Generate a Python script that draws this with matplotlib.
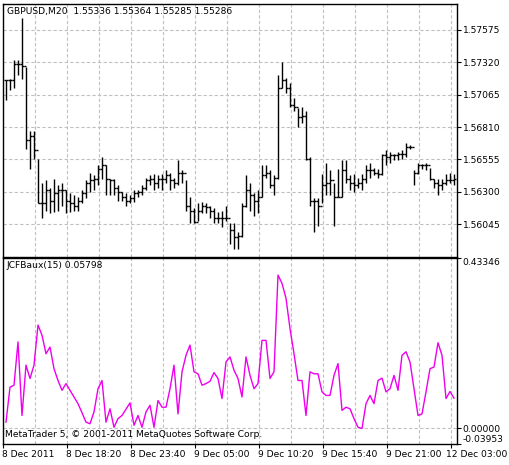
import matplotlib
matplotlib.use("Agg")
import matplotlib.pyplot as plt
import numpy as np

high = [1.5718,1.5719,1.5734,1.5734,1.5767,1.5728,1.5678,1.5678,1.5656,1.5637,1.5639,1.5633,1.5640,1.5635,1.5637,
        1.5631,1.5629,1.5627,1.5626,1.5631,1.5639,1.5645,1.5643,1.5651,1.5657,1.5651,1.5640,1.5640,1.5635,1.5630,
        1.5629,1.5627,1.5631,1.5631,1.5635,1.5641,1.5643,1.5644,1.5643,1.5644,1.5647,1.5645,1.5641,1.5655,1.5647,
        1.5639,1.5626,1.5617,1.5621,1.5622,1.5621,1.5619,1.5617,1.5614,1.5615,1.5619,1.5605,1.5605,1.5598,1.5621,
        1.5643,1.5637,1.5629,1.5631,1.5651,1.5651,1.5647,1.5643,1.5722,1.5732,1.5720,1.5716,1.5704,1.5696,1.5697,
        1.5694,1.5657,1.5625,1.5625,1.5644,1.5653,1.5647,1.5637,1.5648,1.5655,1.5655,1.5643,1.5644,1.5641,1.5644,
        1.5651,1.5653,1.5649,1.5648,1.5660,1.5663,1.5661,1.5660,1.5661,1.5663,1.5668,1.5667,1.5647,1.5653,1.5652,
        1.5653,1.5649,1.5640,1.5640,1.5640,1.5644,1.5645,1.5644]
low = [1.5702,1.5710,1.5712,1.5722,1.5719,1.5664,1.5648,1.5656,1.5621,1.5609,1.5615,1.5613,1.5614,1.5615,1.5619,
       1.5613,1.5614,1.5615,1.5615,1.5621,1.5625,1.5630,1.5631,1.5635,1.5640,1.5627,1.5627,1.5627,1.5623,1.5623,
       1.5619,1.5621,1.5622,1.5626,1.5627,1.5631,1.5635,1.5631,1.5633,1.5631,1.5637,1.5631,1.5633,1.5635,1.5637,
       1.5615,1.5605,1.5605,1.5607,1.5613,1.5613,1.5609,1.5605,1.5605,1.5602,1.5607,1.5589,1.5585,1.5585,1.5594,
       1.5618,1.5615,1.5611,1.5613,1.5626,1.5641,1.5633,1.5627,1.5640,1.5712,1.5708,1.5697,1.5694,1.5681,1.5684,
       1.5655,1.5619,1.5598,1.5603,1.5621,1.5627,1.5627,1.5603,1.5626,1.5626,1.5637,1.5631,1.5630,1.5633,1.5631,
       1.5637,1.5641,1.5643,1.5641,1.5643,1.5651,1.5653,1.5655,1.5655,1.5656,1.5657,1.5664,1.5635,1.5644,1.5648,
       1.5647,1.5639,1.5633,1.5627,1.5631,1.5635,1.5637,1.5635]
close = [1.5718,1.5718,1.5731,1.5731,1.5729,1.5671,1.5674,1.5663,1.5621,1.5621,1.5631,1.5623,1.5629,1.5631,1.5631,
         1.5623,1.5621,1.5619,1.5623,1.5629,1.5637,1.5639,1.5640,1.5648,1.5651,1.5640,1.5639,1.5633,1.5630,1.5626,
         1.5623,1.5625,1.5629,1.5630,1.5633,1.5639,1.5640,1.5637,1.5640,1.5640,1.5643,1.5639,1.5637,1.5645,1.5645,
         1.5619,1.5615,1.5606,1.5615,1.5619,1.5618,1.5615,1.5609,1.5609,1.5609,1.5609,1.5600,1.5594,1.5595,1.5619,
         1.5631,1.5627,1.5623,1.5626,1.5643,1.5645,1.5635,1.5641,1.5712,1.5718,1.5712,1.5698,1.5697,1.5689,1.5690,
         1.5656,1.5623,1.5623,1.5619,1.5635,1.5637,1.5639,1.5626,1.5626,1.5647,1.5640,1.5637,1.5635,1.5637,1.5640,
         1.5647,1.5647,1.5645,1.5644,1.5659,1.5657,1.5659,1.5659,1.5660,1.5660,1.5665,1.5665,1.5645,1.5651,1.5651,
         1.5651,1.5640,1.5637,1.5635,1.5637,1.5639,1.5639,1.5640]

jcf = [0.016,0.105,0.110,0.220,0.033,0.161,0.127,0.161,0.263,0.237,0.190,0.207,0.152,0.122,0.097,0.114,0.097,0.080,
       0.063,0.040,0.016,0.012,0.042,0.101,0.122,0.016,0.050,0.003,0.025,0.033,0.049,0.065,0.008,0.033,0.003,0.042,
       0.059,0.003,0.071,0.054,0.054,0.101,0.161,0.037,0.144,0.186,0.212,0.144,0.139,0.110,0.114,0.120,0.142,0.127,
       0.076,0.169,0.182,0.148,0.127,0.080,0.182,0.135,0.101,0.114,0.224,0.224,0.127,0.144,0.390,0.369,0.331,0.254,
       0.190,0.122,0.122,0.033,0.144,0.139,0.139,0.093,0.084,0.084,0.135,0.165,0.046,0.054,0.050,0.025,0.003,0.000,
       0.063,0.084,0.063,0.122,0.128,0.093,0.101,0.135,0.097,0.186,0.195,0.169,0.101,0.033,0.037,0.093,0.152,0.156,
       0.218,0.186,0.076,0.094,0.077]

price_ticks = [1.57575, 1.57320, 1.57065, 1.56810, 1.56555, 1.56300, 1.56045]
ind_ticks = [0.43346, 0.0, -0.03953]
time_labels = ["8 Dec 2011", "8 Dec 18:20", "8 Dec 23:40", "9 Dec 05:00",
               "9 Dec 10:20", "9 Dec 15:40", "9 Dec 21:00", "12 Dec 03:00"]

W, H = 509, 465
fig = plt.figure(figsize=(W/100, H/100), dpi=100)
plt.rcParams['font.family'] = ['DejaVu Sans']
fs = 6.6

def axrect(l, t, r, b):
    return [l/W, 1 - b/H, (r-l)/W, (b-t)/H]

ax1 = fig.add_axes(axrect(3, 4, 457, 257))
ax2 = fig.add_axes(axrect(3, 258, 457, 444))

n = len(close)
x = np.arange(n)
opens = [close[0]] + close[:-1]
ax1.vlines(x, low, high, color='black', lw=1.0)
ax1.hlines(opens, x - 0.4, x, color='black', lw=1)
ax1.hlines(close, x, x + 0.4, color='black', lw=1)
ax2.plot(x, jcf, color='#ee00ee', lw=1)

xl = (-0.75, 112.75)
grid_x = np.arange(7.25, 113, 8)
for ax in (ax1, ax2):
    ax.set_xlim(*xl)
    ax.set_xticks([])
    for g in grid_x:
        ax.axvline(g, color='#c0c0c0', ls=(0, (3, 2)), lw=0.8, zorder=0)
    ax.yaxis.tick_right()
    ax.tick_params(axis='y', direction='out', length=3, labelsize=fs, pad=1)
    for s in ax.spines.values():
        s.set_linewidth(1)

ax1.set_ylim(1.55785, 1.57780)
ax1.set_yticks(price_ticks)
ax1.set_yticklabels([f"{v:.5f}" for v in price_ticks])
for t in price_ticks:
    ax1.axhline(t, color='#c0c0c0', ls=(0, (3, 2)), lw=0.8, zorder=0)

ax2.set_ylim(-0.03953, 0.43346)
ax2.set_yticks(ind_ticks)
ax2.set_yticklabels([f"{v:.5f}" for v in ind_ticks])
ax2.axhline(0.0, color='#c0c0c0', ls=(0, (3, 2)), lw=0.8, zorder=0)
lab = ax2.get_yticklabels()
lab[0].set_va('top'); lab[2].set_va('bottom')

tick_pos = [-0.75] + list(np.arange(15.25, 113, 16))
for p, t in zip(tick_pos[:-1], time_labels[:-1]):
    ax2.annotate(t, xy=(p, 0), xycoords=('data', 'axes fraction'), xytext=(-1, -4),
                 textcoords='offset points', ha='left', va='top', fontsize=fs, annotation_clip=False)
fig.text(507/W, 1 - 449.5/H, time_labels[-1], ha='right', va='top', fontsize=fs)
ax2.set_xticks(tick_pos)
ax2.set_xticklabels([])
ax2.tick_params(axis='x', direction='out', length=3)

ax1.text(4/454, 1 - 3/253, "GBPUSD,M20  1.55336 1.55364 1.55285 1.55286", transform=ax1.transAxes,
         fontsize=fs, va='top', ha='left')
ax2.text(3/454, 1 - 3/186, "JCFBaux(15) 0.05798", transform=ax2.transAxes, fontsize=fs, va='top', ha='left')
ax2.text(2/454, 5/186, "MetaTrader 5, © 2001-2011 MetaQuotes Software Corp.", transform=ax2.transAxes,
         fontsize=fs, va='bottom', ha='left')

fig.savefig("out.png", dpi=100)
